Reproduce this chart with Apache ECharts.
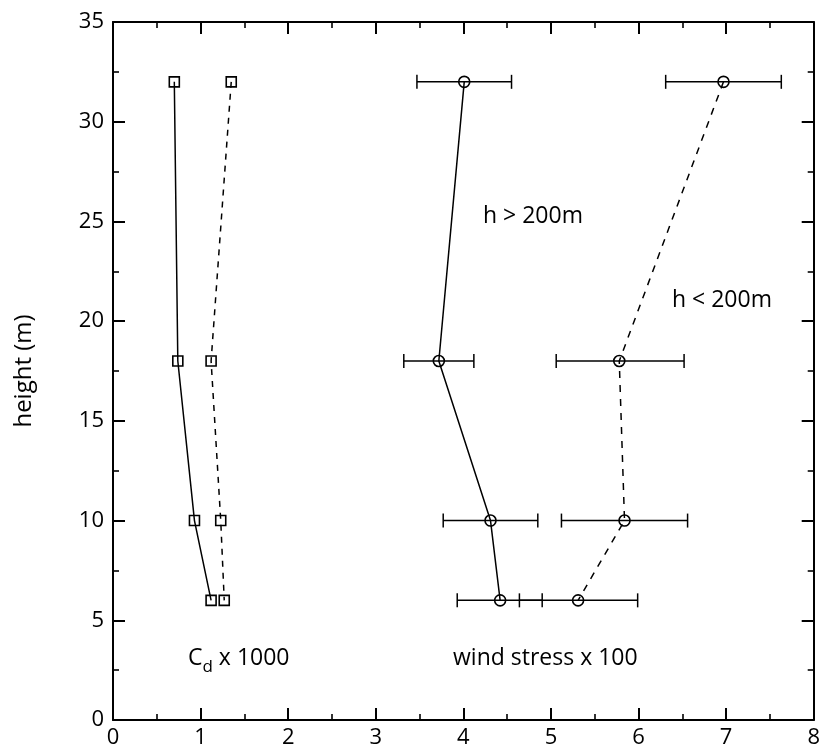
<!DOCTYPE html>
<html><head><meta charset="utf-8">
<script src="https://cdn.jsdelivr.net/npm/echarts@6/dist/echarts.min.js"></script>
<style>html,body{margin:0;padding:0;background:#fff}#c{width:823px;height:754px}</style>
</head><body><div id="c"></div>
<script>
// heights (m)
const heights = [32, 18, 10, 6];
// drag coefficient x 1000
const cdHigh = [0.70, 0.74, 0.93, 1.12];   // h > 200m (solid)
const cdLow  = [1.35, 1.12, 1.23, 1.27];   // h < 200m (dashed)
// wind stress x 100
const wsHigh = [4.01, 3.72, 4.31, 4.42];   // h > 200m (solid)
const wsHighLo = [3.47, 3.32, 3.77, 3.93];
const wsHighHi = [4.55, 4.12, 4.85, 4.90];
const wsLow  = [6.97, 5.78, 5.84, 5.31];   // h < 200m (dashed)
const wsLowLo = [6.31, 5.06, 5.12, 4.64];
const wsLowHi = [7.63, 6.52, 6.56, 5.99];
const xTicks = [0,1,2,3,4,5,6,7,8];
const yTicks = [0,5,10,15,20,25,30,35];

const FONT = 'Open Sans';
const chart = echarts.init(document.getElementById('c'), null, {renderer:'canvas'});

function pairs(xs){ return xs.map((x,i)=>[x, heights[i]]); }
function errData(lo, hi){ return lo.map((l,i)=>[l, hi[i], heights[i]]); }

function errRender(params, api){
  const y = api.value(2);
  const p1 = api.coord([api.value(0), y]);
  const p2 = api.coord([api.value(1), y]);
  const cap = 7;
  const st = {stroke:'#000', lineWidth:1.5};
  return {type:'group', children:[
    {type:'line', shape:{x1:p1[0], y1:p1[1], x2:p2[0], y2:p2[1]}, style:st},
    {type:'line', shape:{x1:p1[0], y1:p1[1]-cap, x2:p1[0], y2:p1[1]+cap}, style:st},
    {type:'line', shape:{x1:p2[0], y1:p2[1]-cap, x2:p2[0], y2:p2[1]+cap}, style:st}
  ]};
}

const axisCommon = {
  type:'value', min:0, splitLine:{show:false},
  axisLine:{show:true, onZero:false, lineStyle:{color:'#000', width:2}},
  axisTick:{show:true, inside:true, length:12, lineStyle:{color:'#000', width:2}},
  minorTick:{show:true, splitNumber:2, length:6, lineStyle:{color:'#000', width:1.6}},
  minorSplitLine:{show:false}
};

const option = {
  backgroundColor:'#fff',
  animation:false,
  grid:{left:113, right:6, top:22, bottom:34, containLabel:false},
  xAxis:[
    Object.assign({}, axisCommon, {position:'bottom', max:8, interval:1,
      axisLabel:{show:true, color:'#000', fontFamily:FONT, fontSize:22, margin:7}}),
    Object.assign({}, axisCommon, {position:'top', max:8, interval:1, axisLabel:{show:false}})
  ],
  yAxis:[
    Object.assign({}, axisCommon, {position:'left', max:35, interval:5,
      name:'height (m)', nameLocation:'middle', nameGap:77, nameRotate:90,
      nameTextStyle:{color:'#000', fontFamily:FONT, fontSize:24},
      axisLabel:{show:true, color:'#000', fontFamily:FONT, fontSize:22, margin:9}}),
    Object.assign({}, axisCommon, {position:'right', max:35, interval:5, axisLabel:{show:false}})
  ],
  series:[
    {type:'custom', renderItem:errRender, data:errData(wsHighLo, wsHighHi), encode:{x:[0,1], y:2}, z:1},
    {type:'custom', renderItem:errRender, data:errData(wsLowLo, wsLowHi), encode:{x:[0,1], y:2}, z:1},
    {type:'line', data:pairs(cdHigh), symbol:'rect', symbolSize:10,
      lineStyle:{color:'#000', width:1.5, type:'solid'},
      itemStyle:{color:'rgba(0,0,0,0)', borderColor:'#000', borderWidth:1.6}, z:3},
    {type:'line', data:pairs(cdLow), symbol:'rect', symbolSize:10,
      lineStyle:{color:'#000', width:1.5, type:[6,6]},
      itemStyle:{color:'rgba(0,0,0,0)', borderColor:'#000', borderWidth:1.6}, z:3},
    {type:'line', data:pairs(wsHigh), symbol:'circle', symbolSize:11,
      lineStyle:{color:'#000', width:1.5, type:'solid'},
      itemStyle:{color:'rgba(0,0,0,0)', borderColor:'#000', borderWidth:1.6}, z:3},
    {type:'line', data:pairs(wsLow), symbol:'circle', symbolSize:11,
      lineStyle:{color:'#000', width:1.5, type:[7,7]},
      itemStyle:{color:'rgba(0,0,0,0)', borderColor:'#000', borderWidth:1.6}, z:3}
  ],
  graphic:[
    {type:'text', left:483, top:205, style:{text:'h > 200m', font:'23px "Open Sans"', fill:'#000'}},
    {type:'text', left:672, top:289, style:{text:'h < 200m', font:'23px "Open Sans"', fill:'#000'}},
    {type:'text', left:188, top:647, style:{rich:{n:{font:'23px "Open Sans"', fill:'#000', verticalAlign:'top'}, s:{font:'17px "Open Sans"', fill:'#000', verticalAlign:'top', padding:[12,0,0,0]}}, text:'{n|C}{s|d}{n| x 1000}'}},
    {type:'text', left:453, top:647, style:{text:'wind stress x 100', font:'23px "Open Sans"', fill:'#000'}}
  ]
};
chart.setOption(option);
</script>
</body></html>
